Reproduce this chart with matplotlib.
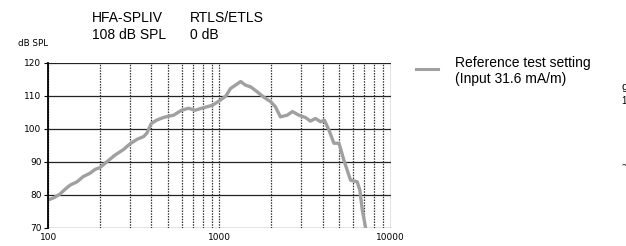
import numpy as np
import matplotlib.pyplot as plt

# frequency response
freq = [100, 109, 117, 125, 134, 147, 160, 175, 188, 200, 220, 245, 275, 300,
        330, 360, 376, 400, 430, 470, 505, 540, 600, 660, 720, 810, 910, 1000,
        1090, 1160, 1240, 1330, 1420, 1520, 1660, 1800, 1990, 2120, 2270, 2490,
        2670, 2910, 3180, 3400, 3640, 3900, 4100, 4360, 4660, 4990, 5330, 5830,
        6380, 6610, 6830, 7140]
spl = [78.4, 79.2, 80.2, 81.6, 82.9, 83.9, 85.5, 86.5, 87.7, 88.2, 90.0, 92.0,
       93.7, 95.4, 96.8, 97.6, 98.6, 101.6, 102.6, 103.4, 103.8, 104.1, 105.6,
       106.2, 105.6, 106.4, 107.1, 108.5, 109.9, 112.2, 113.2, 114.3, 113.2,
       112.7, 111.2, 109.7, 108.2, 106.7, 103.6, 104.1, 105.2, 104.1, 103.4,
       102.3, 103.1, 102.1, 102.6, 99.6, 95.6, 95.6, 90.5, 84.4, 83.9, 81.4,
       75.4, 70.0]
yticks = [70, 80, 90, 100, 110, 120]
xticks = [100, 1000, 10000]
legend_label = "Reference test setting\n(Input 31.6 mA/m)"

fig = plt.figure(figsize=(6.26, 2.46), dpi=100)
ax = fig.add_axes([0.0772, 0.0744, 0.5468, 0.6706])

ax.plot(freq, spl, color='#a0a0a0', lw=2.4, solid_capstyle='round',
        solid_joinstyle='round')
ax.set_xscale('log')
ax.set_xlim(100, 10000)
ax.set_ylim(70, 120)

# grid: solid horizontals, dotted verticals at every decade step
for y in yticks:
    ax.axhline(y, color='#222222', lw=0.9, zorder=0)
for dec in [100, 1000]:
    for m in range(1, 10):
        ax.axvline(dec * m, color='#333333', lw=0.9, ls=(0, (1.2, 1.0)), zorder=0)
ax.axvline(10000, color='#222222', lw=0.9, zorder=0)

ax.set_yticks(yticks)
ax.set_xticks(xticks)
ax.set_xticklabels(['100', '1000', '10000'])
ax.xaxis.set_minor_locator(plt.NullLocator())
ax.tick_params(labelsize=6.5, length=3, width=0.8, colors='black', pad=2)
ax.tick_params(axis='x', length=0, pad=4)
for s in ['top', 'right']:
    ax.spines[s].set_visible(False)
ax.spines['left'].set_linewidth(1.3)
ax.spines['bottom'].set_visible(False)

# header texts
hf = dict(family='Liberation Sans', fontsize=10, color='black')
fig.text(92 / 626, 1 - 18 / 246, 'HFA-SPLIV', va='center', **hf)
fig.text(190 / 626, 1 - 18 / 246, 'RTLS/ETLS', va='center', **hf)
fig.text(92 / 626, 1 - 35 / 246, '108 dB SPL', va='center', **hf)
fig.text(190 / 626, 1 - 35 / 246, '0 dB', va='center', **hf)
fig.text(18 / 626, 1 - 44 / 246, 'dB SPL', va='center', fontsize=6.3)

# legend drawn by hand
fig.add_artist(plt.Line2D([416 / 626, 438 / 626], [1 - 69 / 246] * 2,
                          color='#a0a0a0', lw=2.2))
fig.text(455 / 626, 1 - 71 / 246, legend_label, va='center', linespacing=1.1,
         **hf)

# partial text cut off at right edge (as in the reference)
fig.text(621.5 / 626, 1 - 87 / 246, 'g', va='center', family='Liberation Sans',
         fontsize=8)
fig.text(621.5 / 626, 1 - 101 / 246, '1', va='center', family='Liberation Sans',
         fontsize=7)
fig.text(621.5 / 626, 1 - 166 / 246, '~', va='center', family='Liberation Sans',
         fontsize=8)

fig.savefig('out.png', dpi=100)
